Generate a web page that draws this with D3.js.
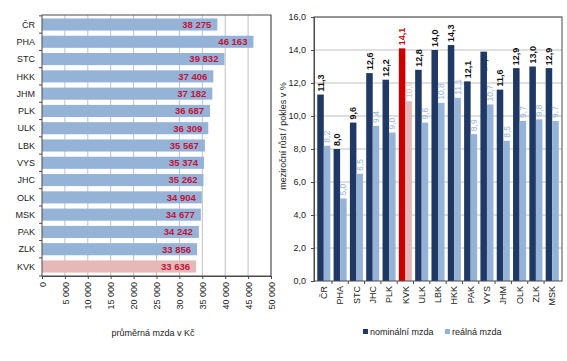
<!DOCTYPE html>
<html>
<head>
<meta charset="utf-8">
<script src="https://cdn.jsdelivr.net/npm/d3@7"></script>
<style>
  body { margin: 0; background: #fff; }
  svg { display: block; font-family: "Liberation Sans", Arial, sans-serif; }
</style>
</head>
<body>
<svg id="chart" width="567" height="361"></svg>
<script>
// levý graf - průměrná mzda
const regionsWage = ['ČR', 'PHA', 'STC', 'HKK', 'JHM', 'PLK', 'ULK', 'LBK', 'VYS', 'JHC', 'OLK', 'MSK', 'PAK', 'ZLK', 'KVK'];
const wages = [38275, 46163, 39832, 37406, 37182, 36687, 36309, 35567, 35374, 35262, 34904, 34677, 34242, 33856, 33636];
const wageTicks = [0, 5000, 10000, 15000, 20000, 25000, 30000, 35000, 40000, 45000, 50000];

// pravý graf - meziroční růst
const regionsGrowth = ['ČR', 'PHA', 'STC', 'JHC', 'PLK', 'KVK', 'ULK', 'LBK', 'HKK', 'PAK', 'VYS', 'JHM', 'OLK', 'ZLK', 'MSK'];
const nominal = [11.3, 8.0, 9.6, 12.6, 12.2, 14.1, 12.8, 14.0, 14.3, 12.1, 13.9, 11.6, 12.9, 13.0, 12.9];
const real = [8.2, 5.0, 6.5, 9.4, 9.0, 10.9, 9.6, 10.8, 11.1, 8.9, 10.7, 8.5, 9.7, 9.8, 9.7];
const growthTicks = [0, 2, 4, 6, 8, 10, 12, 14, 16];

const HIGHLIGHT = 'KVK';
const COLORS = {
    bar: '#95b3d7',
    barHi: '#e6b9b8',
    nominal: '#1f3864',
    nominalHi: '#cc0000',
    grid: '#c0c0c0',
    frame: '#4a4a4a',
    text: '#222',
    wageLabel: '#c0143c'
};

const svg = d3.select('#chart');
const fmtThousands = v => d3.format(',')(v).replace(/,/g, ' ');
const fmtComma = v => d3.format('.1f')(v).replace('.', ',');

// ---------- levý graf ----------
const L = { left: 42, right: 271, top: 15, bottom: 276 };

const xW = d3.scaleLinear().domain([0, 50000]).range([L.left, L.right]);
const yW = d3.scaleBand().domain(regionsWage).range([L.top, L.bottom])
    .paddingInner(0.3).paddingOuter(0.2);

const left = svg.append('g');

left.append('g')
    .selectAll('line')
    .data(wageTicks.slice(1))
    .join('line')
    .attr('x1', d => xW(d)).attr('x2', d => xW(d))
    .attr('y1', L.top).attr('y2', L.bottom)
    .attr('stroke', COLORS.grid).attr('stroke-width', 1);

left.append('g')
    .selectAll('rect')
    .data(regionsWage)
    .join('rect')
    .attr('x', xW(0))
    .attr('y', d => yW(d))
    .attr('width', (d, i) => xW(wages[i]) - xW(0))
    .attr('height', yW.bandwidth())
    .attr('fill', d => d === HIGHLIGHT ? COLORS.barHi : COLORS.bar);

left.append('g')
    .selectAll('text')
    .data(regionsWage)
    .join('text')
    .attr('x', (d, i) => xW(wages[i]) - 6)
    .attr('y', d => yW(d) + yW.bandwidth() / 2)
    .attr('dy', '0.35em')
    .attr('text-anchor', 'end')
    .attr('font-size', 9.5)
    .attr('font-weight', 'bold')
    .attr('fill', COLORS.wageLabel)
    .text((d, i) => fmtThousands(wages[i]));

// rámeček plochy grafu
left.append('rect')
    .attr('x', L.left).attr('y', L.top)
    .attr('width', L.right - L.left).attr('height', L.bottom - L.top)
    .attr('fill', 'none').attr('stroke', COLORS.frame).attr('stroke-width', 1);

// osa y - kategorie
left.append('g')
    .selectAll('text')
    .data(regionsWage)
    .join('text')
    .attr('x', 35)
    .attr('y', d => yW(d) + yW.bandwidth() / 2)
    .attr('dy', '0.35em')
    .attr('text-anchor', 'end')
    .attr('font-size', 9)
    .attr('fill', COLORS.text)
    .text(d => d);

const bandEdgesW = regionsWage.map(d => yW(d) - yW.step() * yW.paddingInner() / 2).concat([L.bottom]);
left.append('g')
    .selectAll('line')
    .data(bandEdgesW)
    .join('line')
    .attr('x1', L.left - 3).attr('x2', L.left)
    .attr('y1', d => d).attr('y2', d => d)
    .attr('stroke', COLORS.frame);

// osa x
const xAxisW = left.append('g')
    .attr('transform', `translate(0,${L.bottom})`)
    .call(d3.axisBottom(xW).tickValues(wageTicks).tickSize(3).tickFormat(fmtThousands));
xAxisW.select('.domain').attr('stroke', COLORS.frame);
xAxisW.selectAll('.tick line').attr('stroke', COLORS.frame);
xAxisW.selectAll('.tick text')
    .attr('transform', 'rotate(-90)')
    .attr('x', -6).attr('y', 0).attr('dy', '0.35em')
    .attr('text-anchor', 'end')
    .attr('font-size', 9)
    .attr('font-family', '"Liberation Sans", Arial, sans-serif')
    .attr('fill', COLORS.text);

left.append('text')
    .attr('x', 153).attr('y', 336)
    .attr('text-anchor', 'middle')
    .attr('font-size', 9)
    .attr('fill', COLORS.text)
    .text('průměrná mzda v Kč');

// ---------- pravý graf ----------
const R = { left: 314, right: 562, top: 17, bottom: 281 };

const xG = d3.scaleBand().domain(regionsGrowth).range([R.left, R.right])
    .paddingInner(0.2).paddingOuter(0.2);
const xSub = d3.scaleBand().domain(['nominal', 'real']).range([0, xG.bandwidth()]);
const yG = d3.scaleLinear().domain([0, 16]).range([R.bottom, R.top]);

const right = svg.append('g');

right.append('g')
    .selectAll('line')
    .data(growthTicks.slice(1))
    .join('line')
    .attr('x1', R.left).attr('x2', R.right)
    .attr('y1', d => yG(d)).attr('y2', d => yG(d))
    .attr('stroke', COLORS.grid).attr('stroke-width', 1);

const groups = right.append('g')
    .selectAll('g')
    .data(regionsGrowth)
    .join('g')
    .attr('transform', d => `translate(${xG(d)},0)`);

groups.append('rect')
    .attr('x', xSub('nominal'))
    .attr('y', (d, i) => yG(nominal[i]))
    .attr('width', xSub.bandwidth())
    .attr('height', (d, i) => yG(0) - yG(nominal[i]))
    .attr('fill', d => d === HIGHLIGHT ? COLORS.nominalHi : COLORS.nominal);

groups.append('rect')
    .attr('x', xSub('real'))
    .attr('y', (d, i) => yG(real[i]))
    .attr('width', xSub.bandwidth())
    .attr('height', (d, i) => yG(0) - yG(real[i]))
    .attr('fill', d => d === HIGHLIGHT ? COLORS.barHi : COLORS.bar);

// popisky hodnot - svisle nad sloupci
groups.append('text')
    .attr('transform', (d, i) => {
        // VYS: popisek je v originále skrytý uvnitř sloupce
        const y = d === 'VYS' ? yG(nominal[i]) + 20 : yG(nominal[i]) - 3;
        return `translate(${xSub('nominal') + xSub.bandwidth() / 2},${y}) rotate(-90)`;
    })
    .attr('dy', '0.35em')
    .attr('font-size', 9)
    .attr('font-weight', 'bold')
    .attr('fill', d => d === HIGHLIGHT ? COLORS.nominalHi : (d === 'VYS' ? COLORS.nominal : '#111'))
    .text((d, i) => fmtComma(nominal[i]));

groups.append('text')
    .attr('transform', (d, i) => `translate(${xSub('real') + xSub.bandwidth() / 2},${yG(real[i]) - 3}) rotate(-90)`)
    .attr('dy', '0.35em')
    .attr('font-size', 8.5)
    .attr('fill', d => d === HIGHLIGHT ? COLORS.barHi : COLORS.bar)
    .text((d, i) => fmtComma(real[i]));

right.append('rect')
    .attr('x', R.left).attr('y', R.top)
    .attr('width', R.right - R.left).attr('height', R.bottom - R.top)
    .attr('fill', 'none').attr('stroke', COLORS.frame).attr('stroke-width', 1);

// osa y
const yAxisG = right.append('g')
    .attr('transform', `translate(${R.left},0)`)
    .call(d3.axisLeft(yG).tickValues(growthTicks).tickSize(3).tickFormat(fmtComma));
yAxisG.select('.domain').attr('stroke', COLORS.frame);
yAxisG.selectAll('.tick line').attr('stroke', COLORS.frame);
yAxisG.selectAll('.tick text')
    .attr('x', -8)
    .attr('font-size', 9)
    .attr('font-family', '"Liberation Sans", Arial, sans-serif')
    .attr('fill', COLORS.text);

right.append('text')
    .attr('transform', 'translate(286,136) rotate(-90)')
    .attr('text-anchor', 'middle')
    .attr('font-size', 9)
    .attr('fill', COLORS.text)
    .text('meziroční růst / pokles v %');

// osa x - kategorie
const bandEdgesG = regionsGrowth.map(d => xG(d) - xG.step() * xG.paddingInner() / 2).slice(1);
right.append('g')
    .selectAll('line')
    .data(bandEdgesG)
    .join('line')
    .attr('x1', d => d).attr('x2', d => d)
    .attr('y1', R.bottom).attr('y2', R.bottom + 3)
    .attr('stroke', COLORS.frame);

right.append('g')
    .selectAll('text')
    .data(regionsGrowth)
    .join('text')
    .attr('transform', d => `translate(${xG(d) + xG.bandwidth() / 2},${R.bottom + 5}) rotate(-90)`)
    .attr('dy', '0.35em')
    .attr('text-anchor', 'end')
    .attr('font-size', 9)
    .attr('fill', COLORS.text)
    .text(d => d);

// legenda
const legendItems = [
    { label: 'nominální mzda', color: COLORS.nominal, x: 363 },
    { label: 'reálná mzda', color: COLORS.bar, x: 445 }
];
const legend = right.append('g')
    .selectAll('g')
    .data(legendItems)
    .join('g')
    .attr('transform', d => `translate(${d.x},332)`);
legend.append('rect')
    .attr('x', 0).attr('y', -3)
    .attr('width', 5).attr('height', 5)
    .attr('fill', d => d.color);
legend.append('text')
    .attr('x', 7).attr('y', 0)
    .attr('dy', '0.35em')
    .attr('font-size', 9)
    .attr('fill', COLORS.text)
    .text(d => d.label);
</script>
</body>
</html>
